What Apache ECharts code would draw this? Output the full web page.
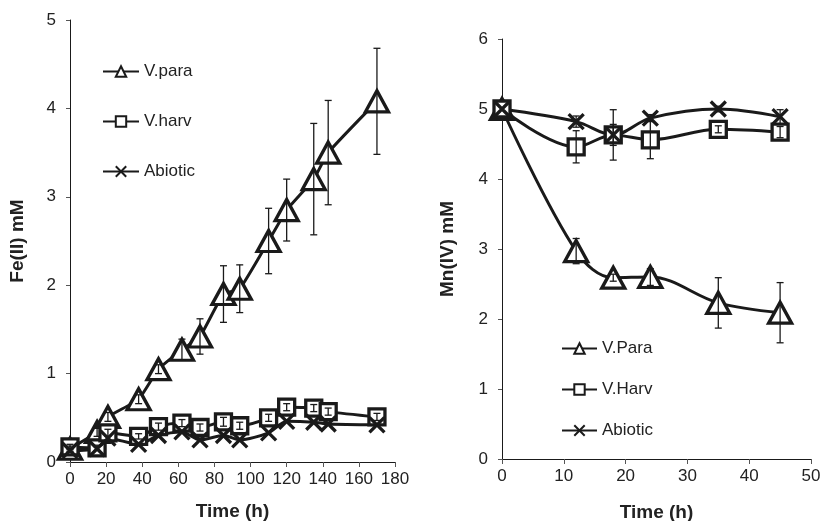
<!DOCTYPE html>
<html>
<head>
<meta charset="utf-8">
<script src="https://cdn.jsdelivr.net/npm/echarts@6/dist/echarts.min.js"></script>
<style>
html, body { margin: 0; padding: 0; background: #fff; }
#main { width: 822px; height: 521px; }
</style>
</head>
<body>
<div id="main"></div>
<script>
// left panel: Fe(II) vs time
var feTime = [0, 15, 21, 38, 49, 62, 72, 85, 94, 110, 120, 135, 143, 170];
var feVpara = [0.15, 0.34, 0.51, 0.71, 1.05, 1.27, 1.42, 1.9, 1.96, 2.5, 2.85, 3.2, 3.5, 4.08];
var feVparaErr = [0.03, 0.05, 0.05, 0.05, 0.05, 0.12, 0.2, 0.32, 0.27, 0.37, 0.35, 0.63, 0.59, 0.6];
var feVharv = [0.17, 0.16, 0.33, 0.29, 0.4, 0.44, 0.39, 0.455, 0.41, 0.5, 0.62, 0.61, 0.57, 0.51];
var feVharvErr = [0.03, 0.03, 0.04, 0.03, 0.04, 0.04, 0.04, 0.05, 0.04, 0.04, 0.04, 0.04, 0.04, 0.04];
var feAbiotic = [0.13, 0.15, 0.27, 0.2, 0.3, 0.34, 0.25, 0.3, 0.25, 0.33, 0.46, 0.45, 0.43, 0.42];

// right panel: Mn(IV) vs time
var mnTime = [0, 12, 18, 24, 35, 45];
var mnVpara = [5, 2.97, 2.59, 2.6, 2.23, 2.09];
var mnVparaErr = [0, 0.18, 0.05, 0.12, 0.36, 0.43];
var mnVharv = [5, 4.46, 4.63, 4.56, 4.71, 4.67];
var mnVharvErr = [0, 0.23, 0.36, 0.27, 0.05, 0.08];
var mnAbiotic = [5, 4.82, 4.63, 4.87, 5.0, 4.89];
var mnAbioticErr = [0, 0.08, 0.15, 0.05, 0.04, 0.1];

var ink = '#1a1a1a';
var crossPath = 'path://M0,0L10,10M10,0L0,10';

function pairs(xs, ys) {
	return xs.map(function(x, i){ return [x, ys[i]]; });
}
function triples(xs, ys, es) {
	return xs.map(function(x, i){ return [x, ys[i], es[i]]; });
}

// vertical error bar with small caps
function errRender(params, api) {
	var x = api.value(0), y = api.value(1), e = api.value(2);
	if (!e) return null;
	var top = api.coord([x, y + e]);
	var bot = api.coord([x, y - e]);
	var hw = 3.5;
	var st = { stroke: ink, lineWidth: 1.3 };
	return {
		type: 'group',
		children: [
			{ type: 'line', shape: { x1: top[0], y1: top[1], x2: bot[0], y2: bot[1] }, style: st },
			{ type: 'line', shape: { x1: top[0] - hw, y1: top[1], x2: top[0] + hw, y2: top[1] }, style: st },
			{ type: 'line', shape: { x1: bot[0] - hw, y1: bot[1], x2: bot[0] + hw, y2: bot[1] }, style: st }
		]
	};
}

function lineSeries(name, idx, data, symbol, size, smooth) {
	return {
		name: name,
		type: 'line',
		xAxisIndex: idx,
		yAxisIndex: idx,
		data: data,
		smooth: smooth,
		symbol: symbol,
		symbolSize: size,
		showAllSymbol: true,
		lineStyle: { color: ink, width: 3 },
		itemStyle: { color: '#fff', borderColor: ink, borderWidth: 3.3 },
		z: 3
	};
}

function errSeries(idx, data) {
	return {
		type: 'custom',
		xAxisIndex: idx,
		yAxisIndex: idx,
		data: data,
		renderItem: errRender,
		silent: true,
		z: 5
	};
}

var labelFont = { fontFamily: 'Liberation Sans, Arial, sans-serif', fontSize: 17, color: '#222' };
var nameFont = { fontFamily: 'Liberation Sans, Arial, sans-serif', fontSize: 19, fontWeight: 'bold', color: '#222' };

function xAxisCfg(idx, max, interval, gap) {
	return {
		type: 'value', gridIndex: idx, min: 0, max: max, interval: interval,
		name: 'Time (h)', nameLocation: 'middle', nameGap: gap, nameTextStyle: nameFont,
		axisLine: { lineStyle: { color: ink, width: 1 } },
		axisTick: { show: true, length: 5, lineStyle: { color: '#555' } },
		axisLabel: Object.assign({ margin: 9 }, labelFont),
		splitLine: { show: false }
	};
}
function yAxisCfg(idx, max, name, gap) {
	return {
		type: 'value', gridIndex: idx, min: 0, max: max, interval: 1,
		name: name, nameLocation: 'middle', nameGap: gap, nameTextStyle: nameFont,
		axisLine: { show: true, lineStyle: { color: ink, width: 1 } },
		axisTick: { show: true, length: 4, lineStyle: { color: '#555' } },
		axisLabel: Object.assign({ margin: 14 }, labelFont),
		splitLine: { show: false }
	};
}

var myChart = echarts.init(document.getElementById('main'));

var option = {
	animation: false,
	backgroundColor: '#fff',
	grid: [
		{ left: 70, top: 20, width: 325, height: 442, outerBoundsMode: 'none', containLabel: false },
		{ left: 502, top: 39, width: 309, height: 420, outerBoundsMode: 'none', containLabel: false }
	],
	xAxis: [xAxisCfg(0, 180, 20, 40), xAxisCfg(1, 50, 10, 44)],
	yAxis: [yAxisCfg(0, 5, 'Fe(II) mM', 43), yAxisCfg(1, 6, 'Mn(IV) mM', 45)],
	legend: [
		{
			data: ['V.para', 'V.harv', 'Abiotic'],
			orient: 'vertical', left: 97, top: 58, itemWidth: 36, itemHeight: 13, itemGap: 33,
			textStyle: labelFont, selectedMode: false
		},
		{
			data: ['V.Para', 'V.Harv', 'Abiotic'],
			orient: 'vertical', left: 556, top: 335, itemWidth: 35, itemHeight: 13, itemGap: 24,
			textStyle: labelFont, selectedMode: false
		}
	],
	series: [
		lineSeries('V.para', 0, pairs(feTime, feVpara), 'triangle', [23, 21], 0.15),
		lineSeries('V.harv', 0, pairs(feTime, feVharv), 'rect', 16, 0.25),
		lineSeries('Abiotic', 0, pairs(feTime, feAbiotic), crossPath, 15, 0.25),
		errSeries(0, triples(feTime, feVpara, feVparaErr)),
		errSeries(0, triples(feTime, feVharv, feVharvErr)),

		lineSeries('V.Para', 1, pairs(mnTime, mnVpara), 'triangle', [23, 21], 0.35),
		lineSeries('V.Harv', 1, pairs(mnTime, mnVharv), 'rect', 16, 0.35),
		lineSeries('Abiotic', 1, pairs(mnTime, mnAbiotic), crossPath, 15, 0.35),
		errSeries(1, triples(mnTime, mnVpara, mnVparaErr)),
		errSeries(1, triples(mnTime, mnVharv, mnVharvErr)),
		errSeries(1, triples(mnTime, mnAbiotic, mnAbioticErr))
	]
};

myChart.setOption(option);
</script>
</body>
</html>
